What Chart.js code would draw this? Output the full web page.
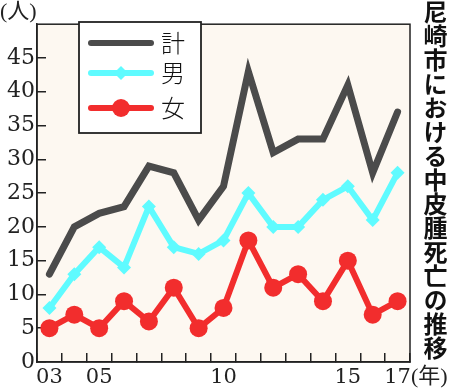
<!DOCTYPE html>
<html>
<head>
<meta charset="utf-8">
<script src="https://cdn.jsdelivr.net/npm/chart.js@4.4.0/dist/chart.umd.min.js"></script>
<style>
  html, body { margin: 0; padding: 0; background: #fff; }
  #wrap { position: relative; width: 450px; height: 389px; overflow: hidden; }
  #chart { position: absolute; left: 0; top: 0; }
  .unit { position: absolute; font-family: "Liberation Serif", "Noto Sans CJK JP"; font-size: 22px; color: #222; line-height: 24px; }
  #title { position: absolute; left: 421px; top: 0; writing-mode: vertical-rl; font: bold 24px "Noto Sans CJK JP"; line-height: 28px; color: #111; }
</style>
</head>
<body>
<div id="wrap">
  <canvas id="chart" width="450" height="389"></canvas>
  <div class="unit" style="left:0;top:-1px">(人)</div>
  <div class="unit" style="left:411px;top:364px">(年)</div>
  <div id="title">尼崎市における中皮腫死亡の推移</div>
</div>
<script>
const years = ['03','04','05','06','07','08','09','10','11','12','13','14','15','16','17'];
const shownYears = ['03','05','10','15','17'];
const totalDeaths = [13,20,22,23,29,28,21,26,43,31,33,33,41,28,37];
const maleDeaths = [8,13,17,14,23,17,16,18,25,20,20,24,26,21,28];
const femaleDeaths = [5,7,5,9,6,11,5,8,18,11,13,9,15,7,9];
const yTicks = [0,5,10,15,20,25,30,35,40,45];
const seriesNames = ['計','男','女'];

const gray = '#4b4b4b';
const cyan = '#5ffbff';
const red = '#f22d2d';
const ink = '#222';

// plot background, frame and the boxed legend
const framePlugin = {
  id: 'frame',
  beforeDraw(chart) {
    const {ctx, chartArea: a} = chart;
    ctx.save();
    ctx.fillStyle = '#fdf8f1';
    ctx.fillRect(a.left, a.top, a.right - a.left, a.bottom - a.top);
    ctx.restore();
  },
  afterDraw(chart) {
    const {ctx, chartArea: a} = chart;
    ctx.save();
    ctx.strokeStyle = ink;
    ctx.lineWidth = 1.5;
    ctx.strokeRect(a.left, a.top, a.right - a.left, a.bottom - a.top);

    // legend box
    ctx.fillStyle = '#fff';
    ctx.fillRect(79, 22, 122, 111);
    ctx.strokeStyle = ink;
    ctx.lineWidth = 1.8;
    ctx.strokeRect(79, 22, 122, 111);

    const rows = [43, 73, 108];
    const colors = [gray, cyan, red];
    rows.forEach((y, i) => {
      ctx.strokeStyle = colors[i];
      ctx.lineWidth = 6;
      ctx.lineCap = 'round';
      ctx.beginPath();
      ctx.moveTo(91, y);
      ctx.lineTo(151, y);
      ctx.stroke();
      ctx.fillStyle = colors[i];
      if (i == 1) {
        ctx.beginPath();
        ctx.moveTo(121, y - 7);
        ctx.lineTo(128, y);
        ctx.lineTo(121, y + 7);
        ctx.lineTo(114, y);
        ctx.closePath();
        ctx.fill();
      } else if (i == 2) {
        ctx.beginPath();
        ctx.arc(121, y, 9, 0, Math.PI * 2);
        ctx.fill();
      }
      ctx.fillStyle = '#111';
      ctx.font = '300 24px "Noto Sans CJK JP"';
      ctx.textBaseline = 'middle';
      ctx.fillText(seriesNames[i], 161, y);
    });
    ctx.restore();
  }
};

new Chart(document.getElementById('chart'), {
  type: 'line',
  data: {
    labels: years,
    datasets: [
      {
        label: seriesNames[0],
        data: totalDeaths,
        borderColor: gray,
        borderWidth: 7,
        borderCapStyle: 'round',
        pointRadius: 0,
        tension: 0,
        order: 2
      },
      {
        label: seriesNames[1],
        data: maleDeaths,
        borderColor: cyan,
        backgroundColor: cyan,
        borderWidth: 6,
        pointStyle: 'rectRot',
        pointRadius: 7,
        pointBorderWidth: 0,
        tension: 0,
        order: 1
      },
      {
        label: seriesNames[2],
        data: femaleDeaths,
        borderColor: red,
        backgroundColor: red,
        borderWidth: 6,
        pointStyle: 'circle',
        pointRadius: 9,
        pointBorderWidth: 0,
        tension: 0,
        order: 0
      }
    ]
  },
  options: {
    responsive: false,
    animation: false,
    layout: { padding: { top: 12, right: 40, left: 0, bottom: 0 } },
    plugins: { legend: { display: false }, tooltip: { enabled: false } },
    scales: {
      x: {
        offset: true,
        grid: { offset: true, drawOnChartArea: false, tickLength: -9, color: ink, lineWidth: 1.5 },
        border: { color: ink, width: 1.5 },
        ticks: {
          autoSkip: false,
          maxRotation: 0,
          padding: 12,
          color: ink,
          font: { family: "'DejaVu Serif'", size: 21 },
          callback: (v, i) => shownYears.includes(years[i]) ? years[i] : ''
        },
        afterFit: s => { s.height = 27; }
      },
      y: {
        min: 0,
        max: 50,
        afterBuildTicks: s => { s.ticks = yTicks.map(v => ({value: v})); },
        grid: { drawOnChartArea: false, tickLength: -9, color: ink, lineWidth: 1.5 },
        border: { color: ink, width: 1.5 },
        ticks: {
          padding: 11,
          color: ink,
          font: { family: "'DejaVu Serif'", size: 22 }
        },
        afterFit: s => { s.width = 37; }
      }
    }
  },
  plugins: [framePlugin]
});
</script>
</body>
</html>
